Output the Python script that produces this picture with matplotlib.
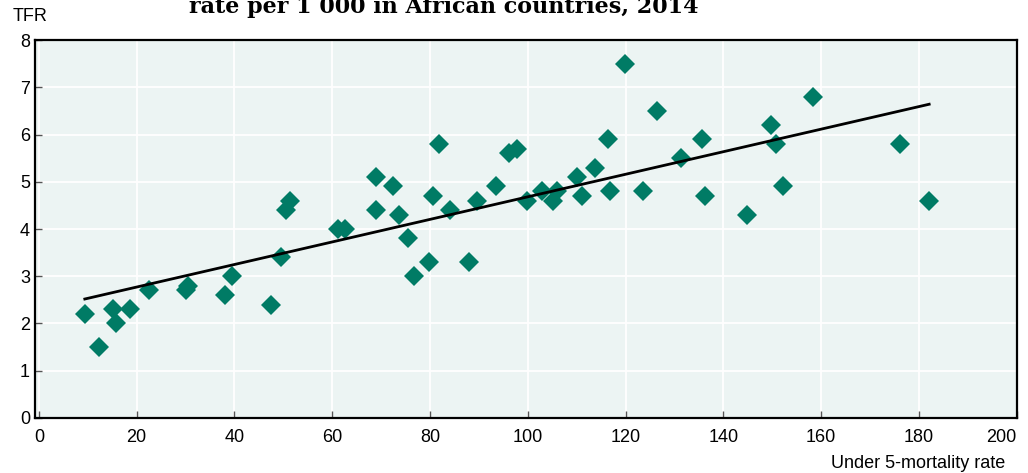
import numpy as np
import matplotlib
matplotlib.use("Agg")
import matplotlib.pyplot as plt

# Under-5 mortality rate (per 1 000) and total fertility rate, African countries 2014
u5mr = [9.4, 12.3, 15.2, 15.8, 18.6, 22.5, 30.1, 30.5, 38.0, 39.5,
        47.5, 49.5, 50.5, 51.3, 61.1, 62.6, 68.9, 68.9, 72.4, 73.6,
        75.6, 76.7, 79.7, 80.7, 81.8, 84.0, 87.9, 89.7, 93.4, 96.1,
        97.7, 99.8, 103.0, 105.1, 105.9, 110.0, 111.0, 113.8, 116.5, 116.9,
        119.9, 123.5, 126.5, 131.4, 135.7, 136.3, 144.9, 149.8, 150.8, 152.1,
        158.4, 176.2, 182.1]
tfr = [2.2, 1.5, 2.3, 2.0, 2.3, 2.7, 2.7, 2.8, 2.6, 3.0,
       2.4, 3.4, 4.4, 4.6, 4.0, 4.0, 5.1, 4.4, 4.9, 4.3,
       3.8, 3.0, 3.3, 4.7, 5.8, 4.4, 3.3, 4.6, 4.9, 5.6,
       5.7, 4.6, 4.8, 4.6, 4.8, 5.1, 4.7, 5.3, 5.9, 4.8,
       7.5, 4.8, 6.5, 5.5, 5.9, 4.7, 4.3, 6.2, 5.8, 4.9,
       6.8, 5.8, 4.6]

x_ticks = list(range(0, 201, 20))
y_ticks = list(range(0, 9))

x = np.array(u5mr)
y = np.array(tfr)
slope, icpt = np.polyfit(x, y, 1)  # linear trend
xf = np.array([x.min(), x.max()])

label_font = ['Liberation Sans', 'DejaVu Sans']

fig = plt.figure(figsize=(10.28, 4.73), dpi=100)
ax = fig.add_axes([0.034, 0.1163, 0.955, 0.7991])
ax.set_facecolor('#ecf4f3')

ax.plot(x, y, 'D', color='#007b65', markersize=10.5, markeredgewidth=0, zorder=3)
ax.plot(xf, slope * xf + icpt, color='black', lw=2, zorder=4)

ax.set_xlim(-0.8, 200)
ax.set_ylim(0, 8)
ax.set_xticks(x_ticks)
ax.set_yticks(y_ticks)
ax.grid(True, color='white', lw=1.3)
ax.set_axisbelow(True)
for s in ax.spines.values():
    s.set_linewidth(1.6)
    s.set_color('black')
ax.tick_params(axis='both', direction='in', length=5, width=1, color='#555555',
               labelsize=13)
ax.tick_params(axis='x', pad=8)
for lbl in ax.get_xticklabels() + ax.get_yticklabels():
    lbl.set_family(label_font)
# keep the end labels inside the figure
xl = ax.get_xticklabels()
xl[-1].set_horizontalalignment('right')

fig.text(0.012, 0.966, 'TFR', fontsize=13, family=label_font, va='center')
fig.text(0.978, 0.021, 'Under 5-mortality rate', fontsize=13, family=label_font,
         ha='right', va='center')
fig.text(0.432, 0.973, 'rate per 1 000 in African countries, 2014', fontsize=16,
         family='DejaVu Serif', weight='bold', ha='center', va='baseline')

fig.savefig('out.png', dpi=100)
